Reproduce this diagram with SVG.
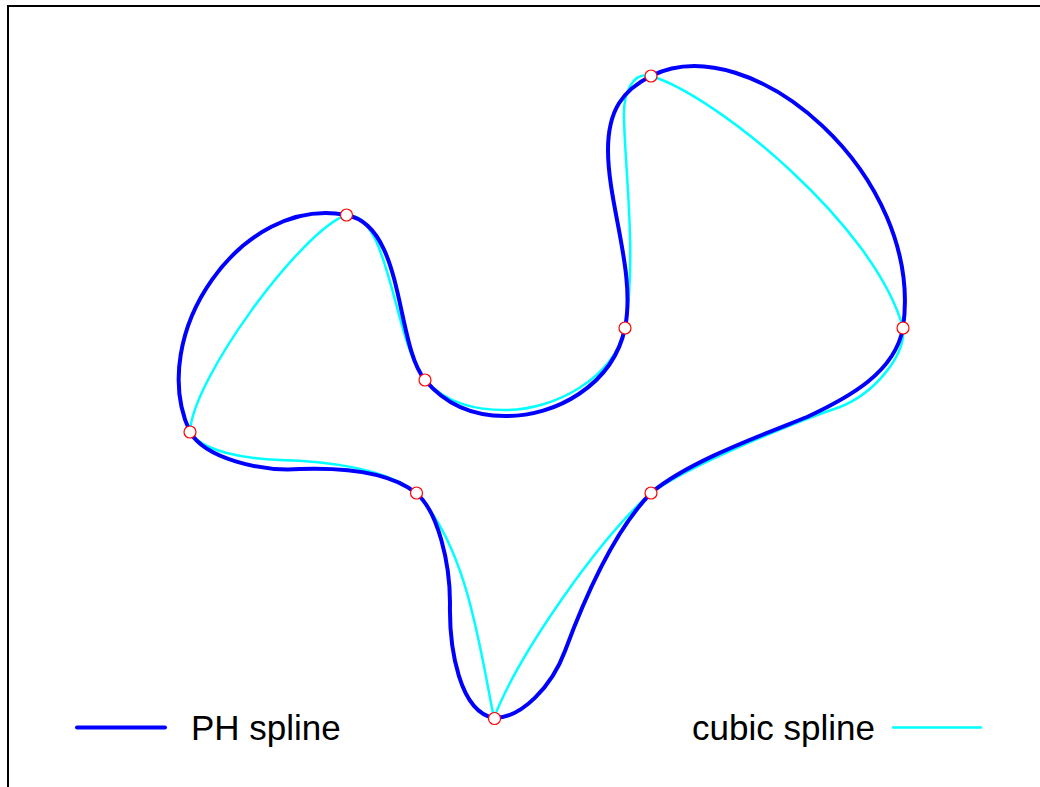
<svg xmlns="http://www.w3.org/2000/svg" width="1040" height="787" viewBox="0 0 1040 787">
<style>
.frame{fill:none;stroke:#000;stroke-width:2}
.ph{fill:none;stroke:#0000ff;stroke-width:4;stroke-linejoin:round;stroke-linecap:round}
.cub{fill:none;stroke:#00ffff;stroke-width:2.5;stroke-linejoin:round;stroke-linecap:round}
.pt{fill:#fff;stroke:#ff0000;stroke-width:1.2}
.lbl{font-family:"Liberation Sans",Arial,sans-serif;font-size:35px;fill:#000}
</style>
<rect x="0" y="0" width="1040" height="787" fill="#fff"/>
<rect class="frame" x="8" y="6" width="1100" height="900"/>
<g id="connectors">
<path id="cubic-spline" class="cub" d="M190,432 C192,380 300,232 346,215 C390,212 393,340 425,380 C448,405 478,410 505,410 C555,410 614,378 625,328 C637,260 625,170 624,118 C623,92 633,71.5 651,76 C715,95 875,225 903,328 C906,355 875,393 840,407 C795,422 690,465 651,493 C598,540 518,655 494,718 C480,650 468,548 416,493 C386,467 320,461 280,460 C245,459 201,451 190,432 Z"/>
<path id="ph-spline" class="ph" d="M190,432 C145,335 242,195 346,215 C405,225 395,344 425,380 C450,410 480,416 505,416 C555,417 613,385 625,328 C636,273 608,205 608,150 C608,110 623,90 651,76 C750,26 925,175 903,328 C895,372 850,397 807,417 C757,437 688,462 651,493 C612,533 582,605 565,651 C552,686 522,718 494,718 C460,712 449,650 450,603 C450,563 438,511 416,493 C386,469 330,468 300,469 C260,472 205,458 190,432 Z"/>
</g>
<g id="p1"><circle class="pt" cx="190" cy="432" r="6"/></g>
<g id="p2"><circle class="pt" cx="346.5" cy="215" r="6"/></g>
<g id="p3"><circle class="pt" cx="425" cy="380" r="6"/></g>
<g id="p4"><circle class="pt" cx="625" cy="328" r="6"/></g>
<g id="p5"><circle class="pt" cx="651" cy="76" r="6"/></g>
<g id="p6"><circle class="pt" cx="903" cy="328" r="6"/></g>
<g id="p7"><circle class="pt" cx="651" cy="493" r="6"/></g>
<g id="p8"><circle class="pt" cx="494.5" cy="718.5" r="6"/></g>
<g id="p9"><circle class="pt" cx="416.5" cy="493" r="6"/></g>
<g id="legend">
<line x1="77" y1="727.5" x2="165" y2="727.5" class="ph"/>
<text class="lbl" x="191" y="740">PH spline</text>
<text class="lbl" x="692" y="740">cubic spline</text>
<line x1="893" y1="727.5" x2="981" y2="727.5" class="cub"/>
</g>
</svg>
